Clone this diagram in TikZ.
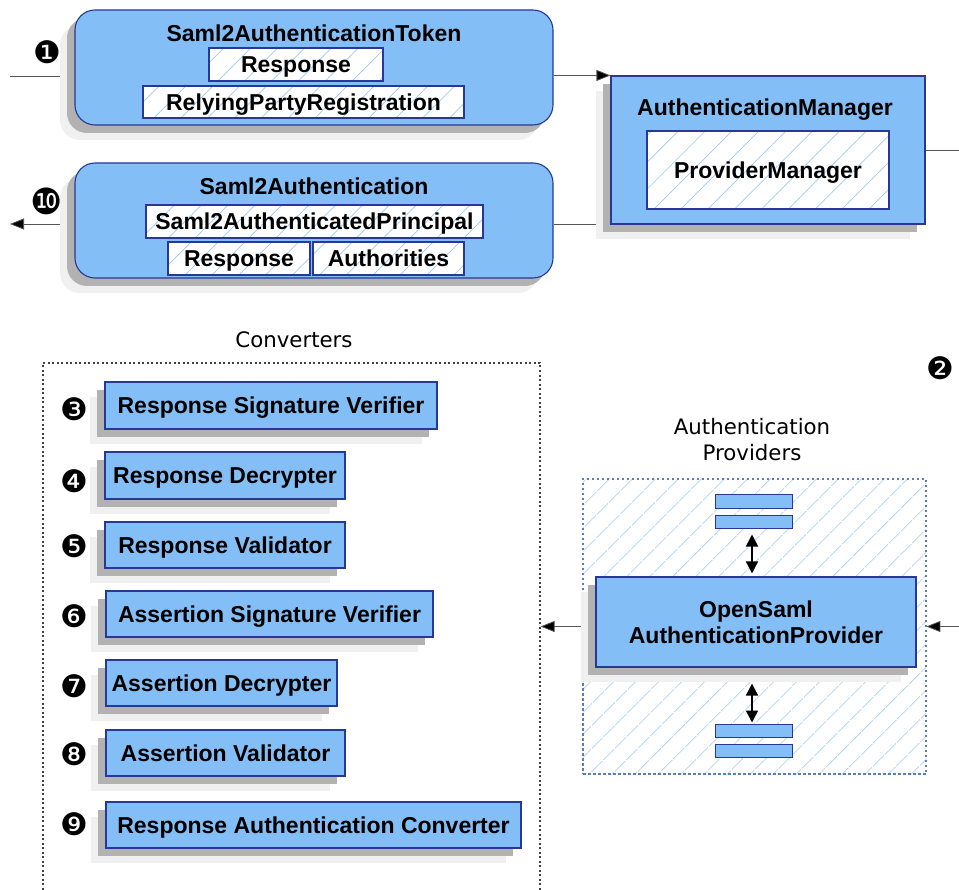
\documentclass[tikz,border=0pt]{standalone}
\usepackage{fontspec}
\setmainfont{Liberation Sans}
\newfontfamily\dejavu{DejaVu Sans}
\usetikzlibrary{arrows.meta,shadows,patterns.meta,backgrounds}
\definecolor{boxblue}{RGB}{132,190,246}
\definecolor{boxline}{RGB}{40,56,150}
\definecolor{hatchblue}{RGB}{160,202,240}
\definecolor{dotblue}{RGB}{90,125,185}
\definecolor{wiregray}{RGB}{85,85,85}

\begin{document}
\begin{tikzpicture}[x=1pt,y=-1pt,
   font=\fontsize{23}{26}\selectfont\bfseries,
   size/.style 2 args={minimum width=#1pt,minimum height=#2pt,inner sep=0pt},
   oneline/.style={text height=16.5pt,text depth=0pt},
   twoshadow/.style={drop shadow={shadow xshift=-15pt,shadow yshift=-15pt,fill=black!6,opacity=1},
                     drop shadow={shadow xshift=-8pt,shadow yshift=-8pt,fill=black!30,opacity=1}},
   bluebox/.style={draw=boxline,fill=boxblue,line width=1.1pt,twoshadow},
   hatch/.style={pattern={Lines[angle=45,distance=#1pt,line width=0.7pt]},pattern color=hatchblue},
   whitebox/.style={draw=boxline,line width=1.4pt,preaction={fill=white},hatch=19,oneline},
   stackbar/.style={draw=boxline,fill=boxblue,line width=1pt,size={77}{13}},
   marker/.style={font=\dejavu\fontsize{31}{31}\selectfont},
   caption/.style={font=\dejavu\fontsize{21.3}{26}\selectfont,align=center},
   wire/.style={draw=wiregray,line width=0.8pt},
   flow/.style={wire,-{Triangle[length=14pt,width=11pt,fill=black]}}]
\useasboundingbox (0,0) rectangle (959,890);
\clip (0,0) rectangle (959,890);
%
% authentication objects
\node [bluebox,rounded corners=20pt,size={478}{115}] at (314,67.5) (token) {};
\node [oneline] at (314,33) (token title) {Saml2AuthenticationToken};
\node [whitebox,size={174}{33}] at (296,64.5) (token response) {Response};
\node [whitebox,size={321}{32}] at (303.5,102) (token rp) {RelyingPartyRegistration};
%
\node [bluebox,rounded corners=20pt,size={478}{115}] at (314,220.5) (auth) {};
\node [oneline] at (314,186) (auth title) {Saml2Authentication};
\node [whitebox,size={337}{33}] at (314.5,221.5) (auth principal) {Saml2AuthenticatedPrincipal};
\node [whitebox,size={142}{33}] at (239,258.5) (auth response) {Response};
\node [whitebox,size={151}{33}] at (388.5,258.5) (auth authorities) {Authorities};
%
\node [bluebox,size={314}{148}] at (768,150) (manager) {};
\node [oneline] at (765,107) (manager title) {AuthenticationManager};
\node [whitebox,hatch=19,size={242}{78}] at (768,170) (provider manager) {ProviderManager};
%
\node [marker] at (47,52) (m1) {❶};
\node [marker,font=\dejavu\fontsize{36}{36}\selectfont] at (47,201) (m10) {❿};
\node [marker] at (940,368) (m2) {❷};
%
% converters
\node [caption] at (294,340) (converters title) {Converters};
\node [draw=black!75,line width=1.2pt,dash pattern=on 2pt off 2.5pt,size={497}{547}] at (291.5,636.5) (converters) {};
\node [bluebox,oneline,size={332}{47}] at (271,405.5) (c3) {Response Signature Verifier};
\node [bluebox,oneline,size={240}{47}] at (225,475.5) (c4) {Response Decrypter};
\node [bluebox,oneline,size={240}{46}] at (225,545) (c5) {Response Validator};
\node [bluebox,oneline,size={327}{46}] at (269.5,614) (c6) {Assertion Signature Verifier};
\node [bluebox,oneline,size={231}{46}] at (221.5,683) (c7) {Assertion Decrypter};
\node [bluebox,oneline,size={239}{46}] at (225.5,753) (c8) {Assertion Validator};
\node [bluebox,oneline,size={415}{46}] at (313.5,825) (c9) {Response Authentication Converter};
\foreach \num/\y in {❸/409,❹/481,❺/546,❻/616,❼/686,❽/754,❾/824}
   \node [marker] at (74,\y) {\num};
%
% providers
\node [caption] at (752,440) (providers title) {Authentication\\Providers};
\node [draw=dotblue,line width=1.3pt,dash pattern=on 2.5pt off 2.5pt,hatch=17,size={343}{295}] at (754.5,626.5) (providers) {};
\node [stackbar] at (753.5,501.5) (top a) {};
\node [stackbar] at (753.5,521.5) (top b) {};
\node [stackbar] at (753.5,730.5) (bottom a) {};
\node [stackbar] at (753.5,751) (bottom b) {};
\node [bluebox,size={320}{90},align=center] at (756,622) (opensaml) {OpenSaml\\AuthenticationProvider};
%
\path[{Triangle[length=12pt,width=12pt]}-{Triangle[length=12pt,width=12pt]},line width=1.6pt]
   ([xshift=-1.5pt]top b.south) edge[shorten <=6pt,shorten >=3pt] ([xshift=-1.5pt]top b.south |- opensaml.north)
   ([xshift=-1.5pt]bottom a.north) edge[shorten <=1pt,shorten >=16pt] ([xshift=-1.5pt]bottom a.north |- opensaml.south);
%
% connectors
\coordinate (in) at (10,76);
\coordinate (out) at (10,224);
\coordinate (right top) at (959,150);
\coordinate (right bottom) at (959,626.5);
\begin{scope}[on background layer]
\draw [wire] (in) -- (in -| token.west);
\draw [flow] (token.east |- manager.north west) -- (manager.north west);
\draw [wire] (manager.south west) -- (auth.east |- manager.south west);
\draw [flow] (auth.west |- out) -- (out);
\draw [wire] (manager.east) -- (right top);
\draw [flow] (right bottom) -- (providers.east);
\draw [flow] (providers.west) -- (converters.east |- providers.west);
\end{scope}
\end{tikzpicture}
\end{document}
